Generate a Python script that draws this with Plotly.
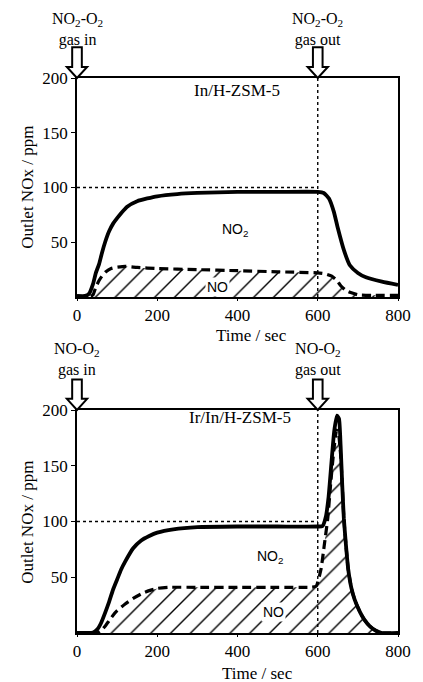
import plotly.graph_objects as go

# ---------------- data ----------------
# Top panel: In/H-ZSM-5, NO2-O2 feed
t_top_total = [0, 20, 30, 40, 47, 55, 62, 70, 80, 90, 100, 111, 125, 150, 175, 200, 250, 300, 400, 500, 600, 615, 628, 640, 650, 665, 680, 700, 720, 760, 800]
v_top_total = [1, 1, 3, 12, 22, 30, 40, 50, 60, 67, 72, 77, 82.5, 87.5, 90, 92, 94, 95, 96, 96, 96, 95, 90, 78, 63, 43, 29, 22, 18, 14, 11]
t_top_no = [0, 30, 40, 47, 55, 62, 72, 85, 96, 120, 150, 200, 300, 400, 500, 600, 620, 635, 648, 658, 670, 682, 700, 740, 800]
v_top_no = [0, 0, 2, 9, 15, 19, 23, 26, 27, 28, 27, 26, 25, 24, 23, 22, 21, 19, 15, 10, 6, 4, 2, 1.5, 1.5]

# Bottom panel: Ir/In/H-ZSM-5, NO-O2 feed
t_bot_total = [0, 40, 50, 60, 70, 80, 90, 100, 110, 120, 140, 160, 180, 200, 240, 300, 400, 500, 600, 612, 620, 627, 634, 641, 648, 653, 657, 661, 665, 670, 676, 684, 692, 705, 716, 730, 745, 760, 800]
v_bot_total = [0, 0.5, 3, 9, 18, 28, 39, 48, 57, 64, 76, 83, 87, 90, 93, 95, 95.5, 95.5, 95.5, 96, 104, 122, 152, 181, 195, 192, 168, 133, 103, 80, 57, 40, 30, 19, 12, 6, 2, 0, 0]
t_bot_no = [0, 50, 60, 70, 80, 90, 100, 120, 140, 160, 180, 200, 230, 300, 400, 500, 580, 596, 608, 616, 625, 632, 640, 647, 652, 657, 661, 665, 670, 676, 684, 692, 705, 716, 730, 745, 760, 800]
v_bot_no = [0, 0, 2, 6, 11, 16, 20, 26, 31, 35, 38, 40, 41, 41, 41, 41, 41, 42, 57, 78, 103, 133, 164, 182, 178, 160, 133, 103, 80, 57, 40, 30, 19, 12, 6, 2, 0, 0]

x_ticks = [0, 200, 400, 600, 800]
y_ticks = [50, 100, 150, 200]
t_switch = 600
ref_level = 100

SERIF = "Liberation Serif"
SANS = "Liberation Sans"

fig = go.Figure()

def add_panel(tt, vt, tn, vn, xa, ya):
    fig.add_trace(go.Scatter(x=tn, y=vn, xaxis=xa, yaxis=ya, mode="lines",
                             line=dict(width=0, shape="spline", smoothing=0.45),
                             fill="tozeroy", fillcolor="white",
                             fillpattern=dict(shape="/", size=14, solidity=0.1,
                                              fgcolor="black", bgcolor="white", fgopacity=1),
                             showlegend=False, hoverinfo="skip"))
    fig.add_trace(go.Scatter(x=tn, y=vn, xaxis=xa, yaxis=ya, mode="lines",
                             line=dict(color="black", width=3.2, dash="9px,5px",
                                       shape="spline", smoothing=0.45),
                             showlegend=False))
    fig.add_trace(go.Scatter(x=tt, y=vt, xaxis=xa, yaxis=ya, mode="lines",
                             line=dict(color="black", width=3.8, shape="spline", smoothing=0.5),
                             showlegend=False))

add_panel(t_top_total, v_top_total, t_top_no, v_top_no, "x", "y")
add_panel(t_bot_total, v_bot_total, t_bot_no, v_bot_no, "x2", "y2")

# dotted reference lines
shapes = []
for xr, yr in (("x", "y"), ("x2", "y2")):
    shapes.append(dict(type="line", xref=xr, yref=yr, x0=0, x1=t_switch, y0=ref_level, y1=ref_level,
                       line=dict(color="black", width=1.4, dash="3px,3px")))
    shapes.append(dict(type="line", xref=xr, yref=yr, x0=t_switch, x1=t_switch, y0=0, y1=200,
                       line=dict(color="black", width=1.4, dash="3px,3px")))

# hollow block arrows above the panels
PW, PH = 333.0, 220.0
def arrow(xd, xr, yr, top_px=31):
    def P(px, py):
        return f"{xd + px / PW:.5f},{1 + py / PH:.5f}"
    path = ("M " + P(-5, top_px) + " L " + P(5, top_px) + " L " + P(5, 11) + " L " + P(10.5, 11) +
            " L " + P(0, 0) + " L " + P(-10.5, 11) + " L " + P(-5, 11) + " Z")
    return dict(type="path", xref=xr, yref=yr, path=path,
                line=dict(color="black", width=2), fillcolor="white", layer="above")

shapes += [arrow(0, "x domain", "y domain"), arrow(0.75, "x domain", "y domain"),
           arrow(0, "x2 domain", "y2 domain", 30), arrow(0.75, "x2 domain", "y2 domain", 30)]

H = 555.0
def py(p):
    return (633 - p) / H

ann = []
def txt(text, x, y, xref, yref, size=17, font=SERIF, **kw):
    ann.append(dict(text=text, x=x, y=y, xref=xref, yref=yref, showarrow=False,
                    xanchor="center", yanchor="middle",
                    font=dict(family=font, size=size, color="black"), **kw))

# gas in/out labels
txt("NO<sub>2</sub>-O<sub>2</sub><br>gas in", 0, py(29), "x", "paper", size=16)
txt("NO<sub>2</sub>-O<sub>2</sub><br>gas out", 600, py(29), "x", "paper", size=16)
txt("NO-O<sub>2</sub><br>gas in", 0, py(360), "x2", "paper", size=16)
txt("NO-O<sub>2</sub><br>gas out", 600, py(360), "x2", "paper", size=16)

# catalyst names
txt("In/H-ZSM-5", 398, 189, "x", "y")
txt("Ir/In/H-ZSM-5", 405, 193, "x2", "y2")

# species labels
txt("NO<sub>2</sub>", 394, 61, "x", "y", size=14, font=SANS)
txt("NO", 349, 9, "x", "y", size=14, font=SANS, bgcolor="white")
txt("NO<sub>2</sub>", 482, 68, "x2", "y2", size=14, font=SANS)
txt("NO", 489, 19, "x2", "y2", size=14, font=SANS, bgcolor="white")

# axis titles
txt("Time / sec", (258 - 77) / PW, py(335), "paper", "paper")
txt("Time / sec", (264 - 77) / PW, py(673), "paper", "paper")
txt("Outlet NOx / ppm", (25 - 77) / PW, py(187), "paper", "paper", textangle=-90)
txt("Outlet NOx / ppm", (25 - 77) / PW, py(522), "paper", "paper", textangle=-90)

axis_common = dict(showline=True, linecolor="black", linewidth=1.5, mirror=True,
                   showgrid=False, zeroline=False, tickfont=dict(family=SERIF, size=17, color="black"))
xax = dict(axis_common, range=[0, 800], tickvals=x_ticks, ticks="outside", ticklen=2, tickcolor="black")
yax = dict(axis_common, range=[0, 200], tickvals=y_ticks, ticks="outside", ticklen=4, tickcolor="black")

fig.update_layout(
    width=423, height=682,
    margin=dict(l=77, r=13, t=78, b=49),
    paper_bgcolor="white", plot_bgcolor="white",
    xaxis=dict(xax, domain=[0, 1], anchor="y"),
    yaxis=dict(yax, domain=[(633 - 297) / H, 1], anchor="x"),
    xaxis2=dict(xax, domain=[0, 1], anchor="y2"),
    yaxis2=dict(yax, domain=[0, (633 - 410) / H], anchor="x2"),
    shapes=shapes, annotations=ann, showlegend=False,
)

fig.write_html("out.html", config={"displayModeBar": False},
               post_script="document.body.style.margin='0';document.body.style.overflow='hidden';")
